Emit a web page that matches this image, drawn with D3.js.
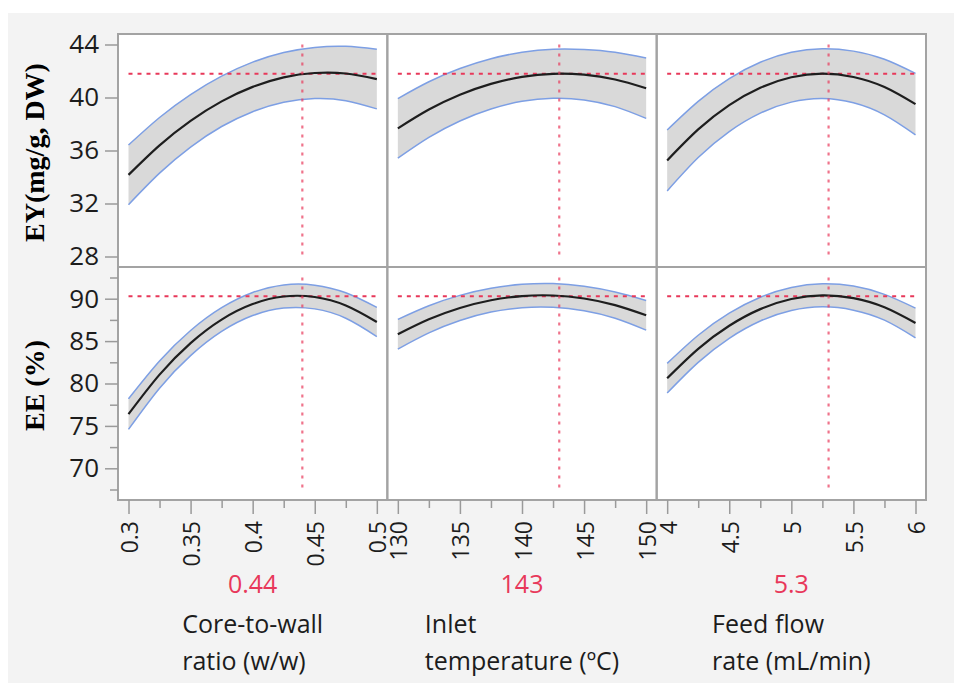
<!DOCTYPE html>
<html>
<head>
<meta charset="utf-8">
<script src="https://cdn.jsdelivr.net/npm/d3@7"></script>
<style>
  html, body { margin: 0; padding: 0; background: #ffffff; }
  svg { display: block; }
</style>
</head>
<body>
<svg id="chart" width="954" height="683"></svg>
<script>
// Prediction profiler: two responses (rows) against three spray-drying factors (columns)

const factorNames = [["Core-to-wall", "ratio (w/w)"], ["Inlet", "temperature (ºC)"], ["Feed flow", "rate (mL/min)"]];
const factorDomains = [[0.3, 0.5], [130, 150], [4, 6]];
const factorSettings = [0.44, 143, 5.3];
const settingLabels = ["0.44", "143", "5.3"];

const xMajorTicks = [[0.3, 0.35, 0.4, 0.45, 0.5], [130, 135, 140, 145, 150], [4, 4.5, 5, 5.5, 6]];
const xMajorLabels = [["0.3", "0.35", "0.4", "0.45", "0.5"], ["130", "135", "140", "145", "150"], ["4", "4.5", "5", "5.5", "6"]];
const xMinorTicks = [[0.325, 0.375, 0.425, 0.475], [132.5, 137.5, 142.5, 147.5], [4.25, 4.75, 5.25, 5.75]];

const responseNames = ["EY(mg/g, DW)", "EE (%)"];
const responseDomains = [[28, 44], [67.5, 92.5]];
const yMajorTicks = [[28, 32, 36, 40, 44], [70, 75, 80, 85, 90]];
const yMinorTicks = [[], [67.5, 72.5, 77.5, 82.5, 87.5, 92.5]];
const predictedAtSetting = [41.8, 90.3];

// factor grid points for each profile trace
const ratioX = [0.3, 0.325, 0.35, 0.375, 0.4, 0.425, 0.45, 0.475, 0.5];
const tempX = [130, 132.5, 135, 137.5, 140, 142.5, 145, 147.5, 150];
const flowX = [4, 4.25, 4.5, 4.75, 5, 5.25, 5.5, 5.75, 6];

// EY profiles
const eyRatioMean = [34.16, 36.39, 38.24, 39.71, 40.80, 41.52, 41.85, 41.81, 41.39];
const eyRatioUpper = [36.41, 38.49, 40.22, 41.61, 42.67, 43.40, 43.78, 43.86, 43.64];
const eyRatioLower = [31.91, 34.29, 36.26, 37.81, 38.93, 39.64, 39.92, 39.76, 39.14];
const eyTempMean = [37.67, 39.09, 40.21, 41.03, 41.56, 41.79, 41.72, 41.36, 40.70];
const eyTempUpper = [39.92, 41.19, 42.19, 42.93, 43.41, 43.64, 43.62, 43.41, 42.98];
const eyTempLower = [35.42, 36.99, 38.23, 39.13, 39.71, 39.94, 39.82, 39.31, 38.42];
const eyFlowMean = [35.25, 37.59, 39.43, 40.74, 41.53, 41.80, 41.55, 40.79, 39.50];
const eyFlowUpper = [37.55, 39.71, 41.43, 42.66, 43.41, 43.68, 43.50, 42.89, 41.82];
const eyFlowLower = [32.95, 35.47, 37.43, 38.82, 39.65, 39.92, 39.60, 38.69, 37.18];

// EE profiles
const eeRatioMean = [76.39, 81.05, 84.77, 87.54, 89.37, 90.26, 90.20, 89.20, 87.26];
const eeRatioUpper = [78.19, 82.65, 86.25, 88.94, 90.73, 91.62, 91.60, 90.70, 88.98];
const eeRatioLower = [74.59, 79.45, 83.29, 86.14, 88.01, 88.90, 88.80, 87.70, 85.54];
const eeTempMean = [85.81, 87.57, 88.91, 89.82, 90.31, 90.38, 90.02, 89.24, 88.04];
const eeTempUpper = [87.56, 89.17, 90.39, 91.22, 91.69, 91.78, 91.47, 90.79, 89.79];
const eeTempLower = [84.06, 85.97, 87.43, 88.42, 88.93, 88.98, 88.57, 87.69, 86.29];
const eeFlowMean = [80.62, 84.09, 86.81, 88.77, 89.96, 90.40, 90.07, 88.99, 87.14];
const eeFlowUpper = [82.37, 85.69, 88.29, 90.17, 91.32, 91.76, 91.49, 90.51, 88.89];
const eeFlowLower = [78.87, 82.49, 85.33, 87.37, 88.60, 89.04, 88.65, 87.47, 85.39];

const gridX = [ratioX, tempX, flowX];
const profiles = [
  [
    { mean: eyRatioMean, upper: eyRatioUpper, lower: eyRatioLower },
    { mean: eyTempMean, upper: eyTempUpper, lower: eyTempLower },
    { mean: eyFlowMean, upper: eyFlowUpper, lower: eyFlowLower }
  ],
  [
    { mean: eeRatioMean, upper: eeRatioUpper, lower: eeRatioLower },
    { mean: eeTempMean, upper: eeTempUpper, lower: eeTempLower },
    { mean: eeFlowMean, upper: eeFlowUpper, lower: eeFlowLower }
  ]
];

// ---- layout ----
const plotL = 118, plotR = 926, plotT = 34, plotB = 500;
const colW = (plotR - plotL) / 3;
const rowH = (plotB - plotT) / 2;
const inset = 10.5;

const sansFont = "'Open Sans', 'Noto Sans', sans-serif";
const serifFont = "'Liberation Serif', 'DejaVu Serif', serif";
const frameColor = "#a3a3a3";
const tickColor = "#9a9a9a";
const textColor = "#1c1c1c";
const redColor = "#e8385a";

const svg = d3.select("#chart");

// panel backdrop
svg.append("rect").attr("x", 8).attr("y", 13).attr("width", 954 - 8).attr("height", 683 - 13).attr("fill", "#f3f3f3");

const xScales = factorDomains.map((dom, j) =>
  d3.scaleLinear().domain(dom).range([plotL + j * colW + inset, plotL + (j + 1) * colW - inset]));
const yScales = responseDomains.map((dom, i) =>
  d3.scaleLinear().domain(dom).range([plotT + (i + 1) * rowH - inset, plotT + i * rowH + inset]));

// white cell backgrounds
for (let i = 0; i < 2; i++) {
  for (let j = 0; j < 3; j++) {
    svg.append("rect")
      .attr("x", plotL + j * colW).attr("y", plotT + i * rowH)
      .attr("width", colW).attr("height", rowH)
      .attr("fill", "#ffffff");
  }
}

// curves, bands and crosshairs
for (let i = 0; i < 2; i++) {
  const y = yScales[i];
  for (let j = 0; j < 3; j++) {
    const x = xScales[j];
    const p = profiles[i][j];
    const pts = gridX[j].map((v, k) => ({ x: v, m: p.mean[k], u: p.upper[k], l: p.lower[k] }));
    const g = svg.append("g");

    g.append("path").datum(pts)
      .attr("d", d3.area().curve(d3.curveNatural).x(d => x(d.x)).y0(d => y(d.l)).y1(d => y(d.u)))
      .attr("fill", "#d9d9d9");

    ["u", "l"].forEach(key => {
      g.append("path").datum(pts)
        .attr("d", d3.line().curve(d3.curveNatural).x(d => x(d.x)).y(d => y(d[key])))
        .attr("fill", "none").attr("stroke", "#7d9fe4").attr("stroke-width", 1.5);
    });

    // horizontal: predicted response at the current setting
    g.append("line")
      .attr("x1", x.range()[0]).attr("x2", x.range()[1])
      .attr("y1", y(predictedAtSetting[i])).attr("y2", y(predictedAtSetting[i]))
      .attr("stroke", redColor).attr("stroke-width", 2).attr("stroke-dasharray", "4,5");

    g.append("path").datum(pts)
      .attr("d", d3.line().curve(d3.curveNatural).x(d => x(d.x)).y(d => y(d.m)))
      .attr("fill", "none").attr("stroke", "#1e1e1e").attr("stroke-width", 2.2);

    // vertical: current factor setting
    g.append("line")
      .attr("x1", x(factorSettings[j])).attr("x2", x(factorSettings[j]))
      .attr("y1", y.range()[1]).attr("y2", y.range()[0])
      .attr("stroke", redColor).attr("stroke-opacity", 0.7).attr("stroke-width", 2.2).attr("stroke-dasharray", "3,6");
  }
}

// cell frames
for (let i = 0; i < 2; i++) {
  for (let j = 0; j < 3; j++) {
    svg.append("rect")
      .attr("x", plotL + j * colW).attr("y", plotT + i * rowH)
      .attr("width", colW).attr("height", rowH)
      .attr("fill", "none").attr("stroke", frameColor).attr("stroke-width", 2);
  }
}

// y axes
for (let i = 0; i < 2; i++) {
  const minor = svg.append("g").attr("transform", `translate(${plotL},0)`)
    .call(d3.axisLeft(yScales[i]).tickValues(yMinorTicks[i]).tickSize(8).tickFormat(""));
  minor.select(".domain").remove();
  minor.selectAll("line").attr("stroke", tickColor).attr("stroke-width", 1.5);

  const major = svg.append("g").attr("transform", `translate(${plotL},0)`)
    .call(d3.axisLeft(yScales[i]).tickValues(yMajorTicks[i]).tickSize(13).tickPadding(6).tickFormat(d3.format("d")));
  major.select(".domain").remove();
  major.selectAll("line").attr("stroke", tickColor).attr("stroke-width", 1.5);
  major.selectAll("text").attr("fill", textColor).style("font-family", sansFont).style("font-size", "26px");

  svg.append("text")
    .attr("transform", `translate(34,${plotT + (i + 0.5) * rowH + 2}) rotate(-90)`)
    .attr("text-anchor", "middle").attr("dominant-baseline", "central")
    .style("font-family", serifFont).style("font-weight", "bold").style("font-size", "28px")
    .attr("fill", "#000").text(responseNames[i]);
}

// x axes
for (let j = 0; j < 3; j++) {
  const minor = svg.append("g").attr("transform", `translate(0,${plotB})`)
    .call(d3.axisBottom(xScales[j]).tickValues(xMinorTicks[j]).tickSize(8).tickFormat(""));
  minor.select(".domain").remove();
  minor.selectAll("line").attr("stroke", tickColor).attr("stroke-width", 1.5);

  const labels = xMajorLabels[j];
  const major = svg.append("g").attr("transform", `translate(0,${plotB})`)
    .call(d3.axisBottom(xScales[j]).tickValues(xMajorTicks[j]).tickSize(14)
      .tickFormat((d, k) => labels[k]));
  major.select(".domain").remove();
  major.selectAll("line").attr("stroke", tickColor).attr("stroke-width", 1.5);
  major.selectAll("text")
    .attr("y", 0).attr("dy", null)
    .attr("transform", "translate(0,21) rotate(-90)")
    .attr("text-anchor", "end").attr("dominant-baseline", "central")
    .attr("fill", textColor).style("font-family", sansFont).style("font-size", "23px");

  const cx = plotL + (j + 0.5) * colW;
  svg.append("text")
    .attr("x", cx).attr("y", 593).attr("text-anchor", "middle")
    .style("font-family", sansFont).style("font-size", "25px")
    .attr("fill", redColor).text(settingLabels[j]);

  // factor name block, left-aligned lines centred under the cell
  const block = svg.append("g");
  const lines = factorNames[j].map((t, k) => block.append("text")
    .attr("x", 0).attr("y", 633 + k * 37)
    .style("font-family", sansFont).style("font-size", "25px")
    .attr("fill", textColor).text(t));
  const widest = d3.max(lines, t => t.node().getComputedTextLength());
  block.attr("transform", `translate(${cx - widest / 2},0)`);
}
</script>
</body>
</html>
